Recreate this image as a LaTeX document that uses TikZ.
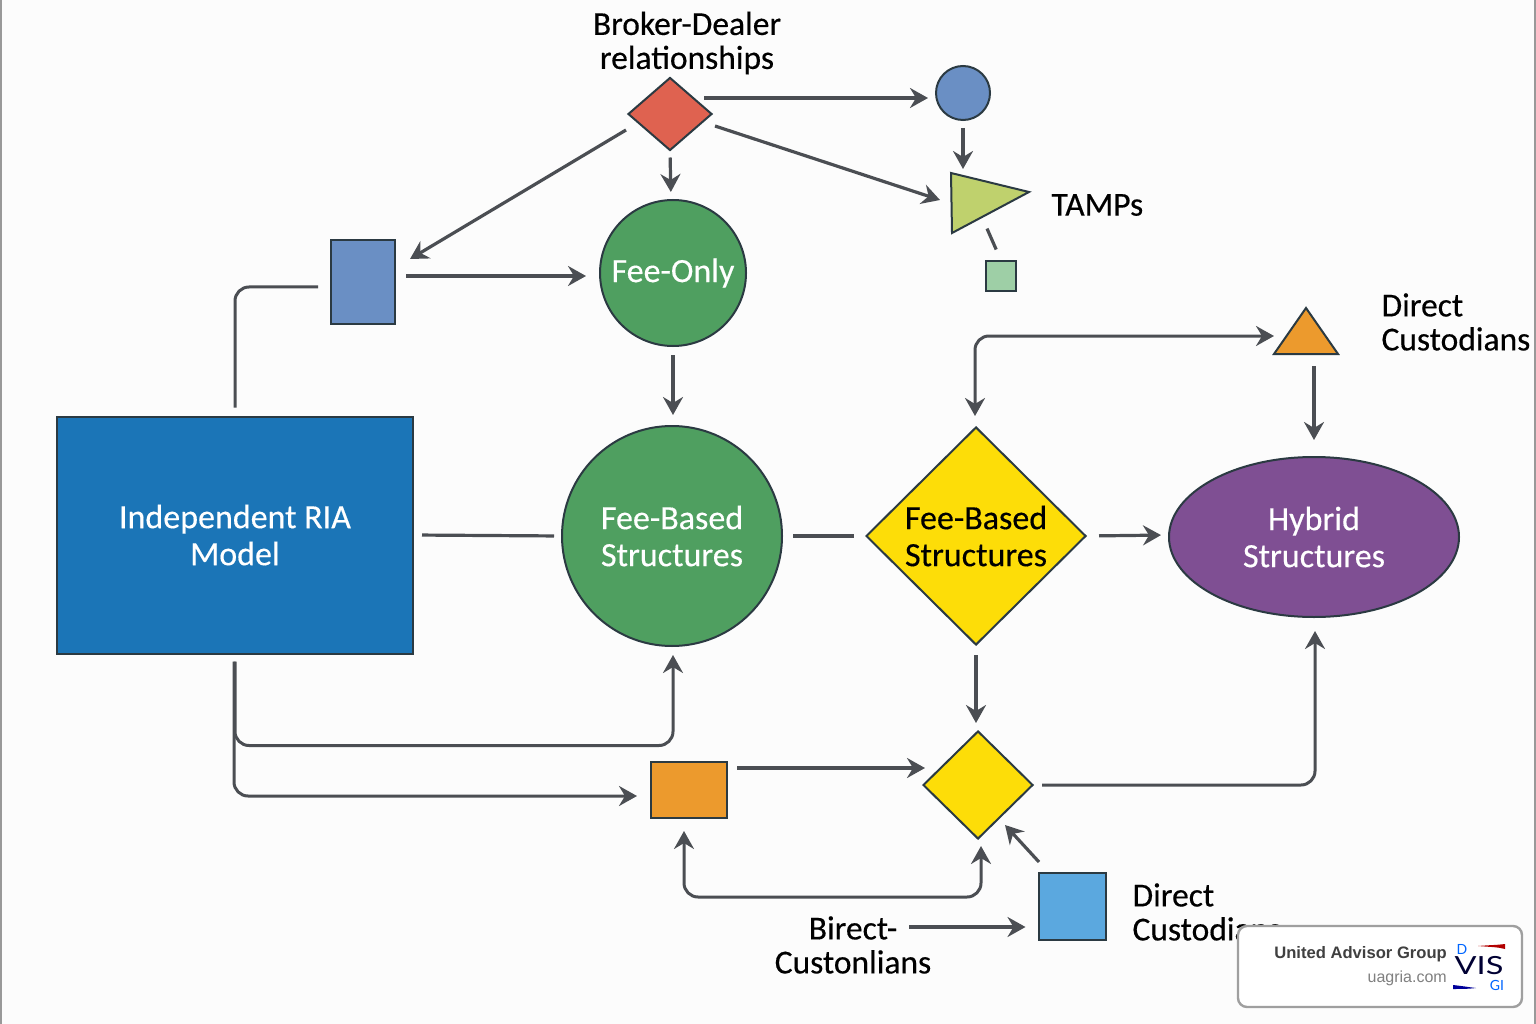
\documentclass[tikz,border=0pt]{standalone}
\usepackage{fontspec}
\setmainfont[RawFeature={embolden=0.35}]{Carlito}
\newfontfamily\badgefont{Liberation Sans}
\newfontfamily\logofont{Lato}
\usetikzlibrary{arrows.meta,shapes.geometric,calc}
\definecolor{linegray}{HTML}{4B4E53}
\definecolor{edgedark}{HTML}{2B3A42}
\definecolor{riablue}{HTML}{1B75B7}
\definecolor{feegreen}{HTML}{4F9F60}
\definecolor{hybridpurple}{HTML}{7F4F93}
\definecolor{sunyellow}{HTML}{FDDD08}
\definecolor{bdred}{HTML}{DF6250}
\definecolor{softblue}{HTML}{6A8FC4}
\definecolor{limegreen}{HTML}{BFD16D}
\definecolor{palegreen}{HTML}{9ECFA6}
\definecolor{amber}{HTML}{EC9A2D}
\definecolor{skyblue}{HTML}{5BA8DF}
\tikzset{
  >={Stealth[length=18pt,width=20pt,inset=6pt]},
  shapebox/.style={draw=edgedark,line width=2pt,inner sep=0pt},
  link/.style={draw=linegray,line width=3.2pt},
  wire/.style={draw=linegray,line width=3pt,rounded corners=14pt},
  bigtext/.style={align=center,font=\fontsize{34}{37}\selectfont},
  sidetext/.style={align=left,anchor=west,font=\fontsize{33.5}{34}\selectfont},
}
\begin{document}
\begin{tikzpicture}[x=1pt,y=-1pt]
  \useasboundingbox (0,0) rectangle (1536,1024);
  \fill[white!99!black] (0,0) rectangle (1536,1024);
  \draw[gray!80,line width=2pt] (1,0) -- (1,1024);
  \draw[gray!80,line width=2pt] (1535,0) -- (1535,1024);
  % main row
  \node[shapebox,bigtext,text=white,fill=riablue,minimum width=356pt,minimum height=237pt] (ria) at (235,535) {Independent RIA\\Model};
  \node[shapebox,bigtext,text=white,fill=feegreen,circle,minimum size=220pt] (based) at (672,536) {Fee-Based\\Structures};
  \node[shapebox,bigtext,fill=sunyellow,diamond,minimum width=220pt,minimum height=218pt] (basedy) at (976,536) {Fee-Based\\Structures};
  \node[shapebox,bigtext,text=white,fill=hybridpurple,ellipse,minimum width=290pt,minimum height=160pt] (hybrid) at (1314,537) {Hybrid\\Structures};
  % top part
  \node[shapebox,bigtext,text=white,fill=feegreen,circle,minimum size=146pt] (only) at (673,273) {Fee-Only};
  \node[shapebox,fill=bdred,diamond,minimum width=84pt,minimum height=73pt] (broker) at (670,114) {};
  \node[shapebox,fill=softblue,circle,minimum size=54pt] (ball) at (963,93) {};
  \node[shapebox,fill=softblue,minimum width=64pt,minimum height=83pt] (slab) at (363,282) {};
  \node[shapebox,fill=palegreen,minimum width=30pt,minimum height=29pt] (chip) at (1001,276) {};
  \coordinate (tamp1) at (951,173);
  \coordinate (tamp2) at (1029,192);
  \coordinate (tamp3) at (952,233);
  \coordinate (tamptop) at (963,173);
  \coordinate (tampin) at (940,200);
  \coordinate (tampout) at (985,224);
  \draw[shapebox,fill=limegreen] (tamp1) -- (tamp2) -- (tamp3) -- cycle;
  \coordinate (cust1) at (1306,308);
  \coordinate (cust2) at (1338,354);
  \coordinate (cust3) at (1274,354);
  \coordinate (custin) at (1274,336);
  \coordinate (custout) at (1314,354);
  \draw[shapebox,fill=amber] (cust1) -- (cust2) -- (cust3) -- cycle;
  % bottom part
  \node[shapebox,fill=amber,minimum width=76pt,minimum height=56pt] (crate) at (689,790) {};
  \node[shapebox,fill=sunyellow,diamond,minimum width=110pt,minimum height=108pt] (gem) at (978,785) {};
  \node[shapebox,fill=skyblue,minimum width=67pt,minimum height=67pt] (cube) at (1072,906) {};
  \coordinate (cratefoot) at (684,818);
  \coordinate (gemfoot) at (981,839);
  \coordinate (gemside) at (1005,825);
  \coordinate (cubeout) at (1039,862);
  \coordinate (basedtop) at (975,427);
  % labels
  \node[bigtext,font=\fontsize{33.5}{34}\selectfont] (brokerlab) at (687,43) {Broker-Dealer\\relationships};
  \node[sidetext] (tamplab) at (1048,205) {TAMPs};
  \node[sidetext] (custlab) at (1378,322) {Direct\\Custodians};
  \node[sidetext] (cubelab) at (1129,912) {Direct\\Custodians};
  \node[bigtext,font=\fontsize{33.5}{34}\selectfont] (bireclab) at (853,945) {Birect-\\Custonlians};
  \coordinate (birecout) at (909,927);
  \begin{scope}[->]
    \draw[link,shorten >=7pt] ([shift={(34,-16)}]broker.center) to ([yshift=-5pt]ball.west);
    \draw[link] ([shift={(45,12)}]broker.center) to (tampin);
    \draw[link,shorten <=6pt,shorten >=7pt] (broker.south) to ([xshift=-2pt]only.north);
    \draw[link] ([shift={(-44,16)}]broker.center) to ([shift={(47,-23)}]slab.center);
    \draw[link,shorten <=10pt,shorten >=13pt] ([yshift=6pt]slab.east) to ([yshift=-3pt]only.west);
    \draw[link,shorten <=8pt,shorten >=10pt] (only.south) to ([xshift=1pt]based.north);
    \draw[link,shorten <=7pt,shorten >=4pt] (ball.south) to (tamptop);
    \draw[link,shorten <=12pt,shorten >=7pt] (basedy.east) to ([yshift=2pt]hybrid.west);
    \draw[link,shorten <=12pt,shorten >=16pt] (custout) to (hybrid.north);
    \draw[link,shorten <=9pt,shorten >=7pt] (basedy.south) to ([xshift=-2pt]gem.north);
    \draw[link,shorten <=9pt,shorten >=-3pt] ([yshift=22pt]crate.east) to ([yshift=17pt]gem.west);
    \draw[link] (cubeout) to (gemside);
    \draw[link,shorten >=12pt] (birecout) to ([yshift=-21pt]cube.west);
    % routed lines
    \draw[wire,shorten <=7pt,shorten >=8pt] (ria.south) -- ++(0,91) -| ([xshift=1pt]based.south);
    \draw[wire,shorten <=7pt,shorten >=13pt] ([xshift=-1pt]ria.south) |- ([yshift=-6pt]crate.west);
    \draw[wire,shorten <=8pt,shorten >=13pt] (gem.east) -| ([xshift=1pt]hybrid.south);
    \draw[wire,<->,shorten <=13pt,shorten >=7pt] (cratefoot) |- (gemfoot |- 0,897) -- (gemfoot);
    \draw[wire,<->,shorten <=11pt,shorten >=0pt] (basedtop) |- (custin);
  \end{scope}
  \draw[link,shorten <=5pt,shorten >=12pt] (tampout) -- (chip.north);
  \draw[wire,shorten <=8pt,shorten >=12pt] (ria.north) |- ([yshift=-5pt]slab.west);
  \draw[link,shorten <=8pt,shorten >=7pt] (ria.east) -- (based.west);
  \draw[link,shorten <=10pt,shorten >=11pt] (based.east) -- (basedy.west);
  % badge
  \node[draw=gray!75,line width=2.4pt,fill=white,rounded corners=9pt,minimum width=284pt,minimum height=81pt] (badge) at (1380,966.5) {};
  \node[anchor=east,inner sep=0pt,text=black!75,font=\badgefont\fontsize{16.6}{20}\selectfont\bfseries] (badgename) at (1447,954) {United Advisor Group};
  \node[anchor=east,inner sep=0pt,text=black!50,font=\badgefont\fontsize{16}{18}\selectfont] (badgeurl) at (1447,978) {uagria.com};
  \node[inner sep=0pt,xscale=1.3,text=black!80!blue,font=\logofont\fontsize{25}{25}\selectfont] (logovis) at (1479,966) {VIS};
  \node[inner sep=0pt,text=blue!60!cyan,font=\logofont\fontsize{14}{14}\selectfont] (logod) at (1462,949) {D};
  \node[inner sep=0pt,text=blue!60!cyan,font=\logofont\fontsize{14}{14}\selectfont] (logog) at (1497,985.5) {GI};
  \fill[red!70!black] (1478,946) .. controls (1490,945) and (1498,945) .. (1505,944) -- (1505,949) .. controls (1498,947) and (1490,947) .. cycle;
  \fill[blue!60!black] (1453,985) .. controls (1462,986) and (1468,987) .. (1476,988) .. controls (1468,989) and (1460,989) .. (1453,989) -- cycle;
\end{tikzpicture}
\end{document}
